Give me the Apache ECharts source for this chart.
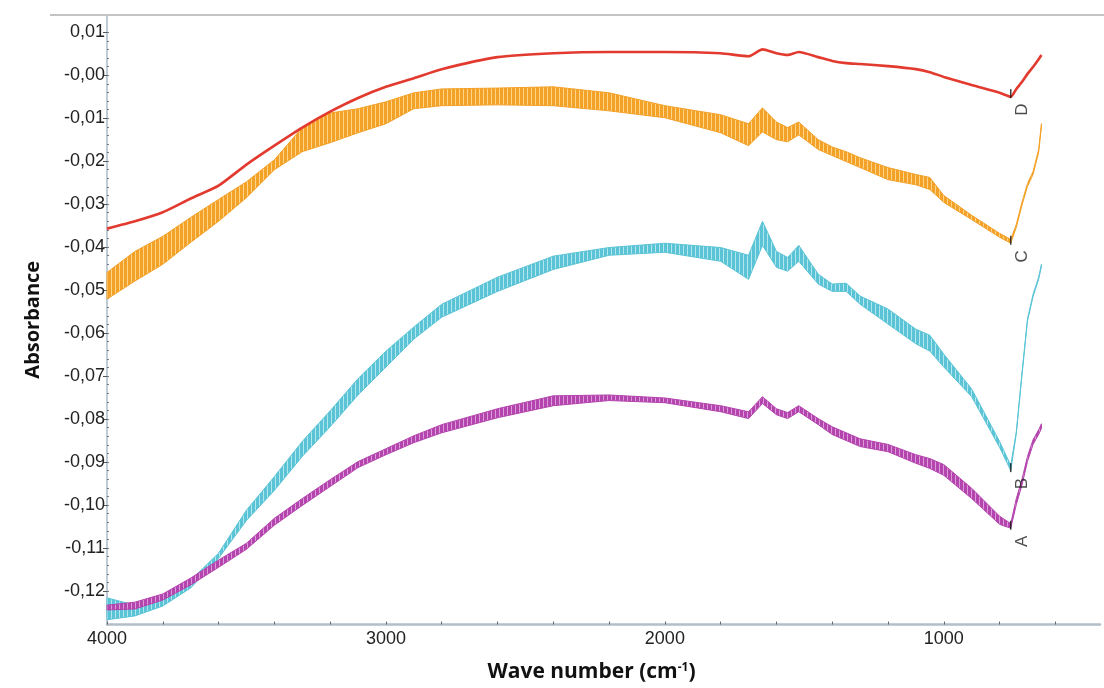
<!DOCTYPE html>
<html>
<head>
<meta charset="utf-8">
<title>FTIR absorbance spectra</title>
<script src="https://cdn.jsdelivr.net/npm/echarts@6/dist/echarts.min.js"></script>
<style>
  html, body { margin: 0; padding: 0; background: #ffffff; }
  #chart { width: 1104px; height: 688px; }
</style>
</head>
<body>
<div id="chart"></div>
<script>
// Sampled wave numbers (cm-1), shared by every spectrum
const waveNumbers = [4000, 3900, 3800, 3700, 3600, 3500, 3400, 3300, 3200, 3100,
  3000, 2900, 2800, 2600, 2400, 2200, 2000, 1800, 1700, 1650,
  1600, 1560, 1520, 1450, 1400, 1350, 1300, 1200, 1100, 1050,
  1000, 900, 800, 760, 740, 720, 700, 680, 660, 650];

// Spectrum D (single trace)
const spectrumD = [-0.0357, -0.0340, -0.0319, -0.0287, -0.0257, -0.0208, -0.0164, -0.0122, -0.0085, -0.0053,
  -0.0027, -0.0007, 0.0014, 0.0042, 0.0051, 0.0054, 0.0054, 0.0051, 0.0044, 0.0060,
  0.0051, 0.0047, 0.0054, 0.0042, 0.0033, 0.0028, 0.0026, 0.0021, 0.0014, 0.0007,
  -0.0004, -0.0023, -0.0041, -0.0050, -0.0032, -0.0016, 0.0003, 0.0019, 0.0037, 0.0047];

// Spectrum C: upper and lower edge of the noisy trace
const spectrumCHigh = [-0.0459, -0.0410, -0.0375, -0.0331, -0.0289, -0.0248, -0.0197, -0.0122, -0.0088, -0.0078,
  -0.0062, -0.0041, -0.0032, -0.0030, -0.0027, -0.0041, -0.0071, -0.0092, -0.0113, -0.0076,
  -0.0109, -0.0122, -0.0109, -0.0150, -0.0167, -0.0178, -0.0192, -0.0215, -0.0231, -0.0238,
  -0.0280, -0.0326, -0.0368, -0.0382, -0.0347, -0.0296, -0.0252, -0.0224, -0.0173, -0.0113];
const spectrumCLow = [-0.0521, -0.0479, -0.0440, -0.0389, -0.0340, -0.0285, -0.0220, -0.0178, -0.0157, -0.0134,
  -0.0113, -0.0078, -0.0071, -0.0069, -0.0071, -0.0083, -0.0099, -0.0134, -0.0164, -0.0132,
  -0.0150, -0.0155, -0.0139, -0.0173, -0.0187, -0.0201, -0.0215, -0.0243, -0.0255, -0.0266,
  -0.0296, -0.0336, -0.0377, -0.0391, -0.0354, -0.0303, -0.0259, -0.0231, -0.0180, -0.0120];

// Spectrum B
const spectrumBHigh = [-0.1216, -0.1233, -0.1212, -0.1175, -0.1112, -0.1012, -0.0934, -0.0852, -0.0781, -0.0706,
  -0.0642, -0.0586, -0.0533, -0.0470, -0.0421, -0.0401, -0.0391, -0.0401, -0.0419, -0.0340,
  -0.0410, -0.0424, -0.0396, -0.0463, -0.0486, -0.0484, -0.0514, -0.0544, -0.0591, -0.0605,
  -0.0649, -0.0730, -0.0852, -0.0908, -0.0829, -0.0695, -0.0567, -0.0510, -0.0470, -0.0440];
const spectrumBLow = [-0.1267, -0.1258, -0.1235, -0.1193, -0.1124, -0.1036, -0.0966, -0.0887, -0.0818, -0.0744,
  -0.0679, -0.0614, -0.0563, -0.0503, -0.0452, -0.0419, -0.0412, -0.0433, -0.0475, -0.0396,
  -0.0447, -0.0456, -0.0433, -0.0486, -0.0503, -0.0503, -0.0533, -0.0579, -0.0625, -0.0642,
  -0.0679, -0.0748, -0.0866, -0.0920, -0.0834, -0.0700, -0.0572, -0.0515, -0.0475, -0.0445];

// Spectrum A
const spectrumAHigh = [-0.1233, -0.1226, -0.1207, -0.1170, -0.1128, -0.1089, -0.1031, -0.0985, -0.0941, -0.0899,
  -0.0869, -0.0839, -0.0813, -0.0776, -0.0746, -0.0744, -0.0751, -0.0769, -0.0783, -0.0748,
  -0.0776, -0.0785, -0.0769, -0.0799, -0.0818, -0.0832, -0.0846, -0.0859, -0.0883, -0.0892,
  -0.0906, -0.0961, -0.1026, -0.1043, -0.0985, -0.0941, -0.0887, -0.0848, -0.0825, -0.0811];
const spectrumALow = [-0.1244, -0.1242, -0.1221, -0.1186, -0.1145, -0.1103, -0.1047, -0.1001, -0.0957, -0.0913,
  -0.0883, -0.0855, -0.0832, -0.0797, -0.0769, -0.0757, -0.0762, -0.0783, -0.0799, -0.0764,
  -0.0790, -0.0799, -0.0783, -0.0813, -0.0836, -0.0850, -0.0864, -0.0876, -0.0903, -0.0915,
  -0.0931, -0.0985, -0.1045, -0.1054, -0.0999, -0.0954, -0.0899, -0.0859, -0.0836, -0.0822];

// Axis ticks
const xTickLabels = [4000, 3000, 2000, 1000];
const xMinorTicks = [4000, 3800, 3600, 3400, 3200, 3000, 2800, 2600, 2400, 2200, 2000,
  1800, 1600, 1400, 1200, 1000, 800, 600];
const yTickLabels = [0.01, 0.00, -0.01, -0.02, -0.03, -0.04, -0.05, -0.06, -0.07,
  -0.08, -0.09, -0.10, -0.11, -0.12];

const colors = { A: '#b444ae', B: '#5ac4d6', C: '#f4a128', D: '#e23a2e' };

// Vertical hatching used to fill the noisy spectra
function hatch(base, light) {
  const c = document.createElement('canvas');
  c.width = 4; c.height = 8;
  const g = c.getContext('2d');
  g.fillStyle = base; g.fillRect(0, 0, 4, 8);
  g.fillStyle = light; g.fillRect(3, 0, 1, 8);
  return { image: c, repeat: 'repeat' };
}

function bandSeries(name, high, low, color, light, z) {
  return {
    name: name,
    type: 'custom',
    coordinateSystem: 'cartesian2d',
    z: z,
    silent: true,
    encode: { x: 0, y: [1, 2] },
    data: waveNumbers.map((w, i) => [w, high[i], low[i]]),
    renderItem: function (params, api) {
      if (params.dataIndex !== 0) return null;
      const top = waveNumbers.map((w, i) => api.coord([w, high[i]]));
      const bottom = waveNumbers.map((w, i) => api.coord([w, low[i]])).reverse();
      return {
        type: 'polygon',
        shape: { points: top.concat(bottom) },
        style: { fill: hatch(color, light), stroke: color, lineWidth: 1, lineJoin: 'round' }
      };
    }
  };
}

// Absorption minimum of each spectrum in the fingerprint region, marked with its letter
function fingerprintMinimum(values) {
  let k = -1;
  values.forEach((v, i) => {
    if (waveNumbers[i] < 1000 && (k < 0 || v < values[k])) k = i;
  });
  return k;
}
const markedCurves = [['D', spectrumD], ['C', spectrumCLow], ['B', spectrumBLow], ['A', spectrumALow]];
const minimaData = markedCurves.map(([letter, vals]) => {
  const k = fingerprintMinimum(vals);
  return { name: letter, value: [waveNumbers[k], vals[k]] };
});

const yFormat = v => (Math.abs(v) < 1e-9 ? '-0,00' : v.toFixed(2).replace('.', ','));

const chart = echarts.init(document.getElementById('chart'), null, { renderer: 'canvas' });
chart.setOption({
  backgroundColor: '#ffffff',
  animation: false,
  grid: { left: 107, right: 4, top: 15, bottom: 60 },
  graphic: [{
    type: 'line', z: 100,
    shape: { x1: 50, y1: 15, x2: 1104, y2: 15 },
    style: { stroke: '#c4c4c4', lineWidth: 2 }
  }],
  xAxis: [{
    type: 'value', inverse: true, min: 440, max: 4000,
    name: 'Wave number (cm{sup|-1})', nameLocation: 'middle', nameGap: 37,
    nameTextStyle: {
      fontFamily: 'Open Sans', fontWeight: 'bold', fontSize: 21, color: '#111',
      padding: [0, 24, 0, 0],
      rich: { sup: { fontFamily: 'Open Sans', fontWeight: 'bold', fontSize: 12, color: '#111', verticalAlign: 'top', padding: [0, 0, 10, 0] } }
    },
    splitLine: { show: false },
    axisLine: { onZero: false, lineStyle: { color: '#b3bec7', width: 2.5 } },
    axisTick: { show: true, inside: true, length: 3, customValues: xMinorTicks, lineStyle: { color: '#667', width: 1 } },
    axisLabel: {
      customValues: xTickLabels, margin: 6, formatter: v => String(v),
      fontFamily: 'Liberation Sans', fontSize: 18, color: '#222', letterSpacing: -0.5
    }
  }],
  yAxis: [{
    type: 'value', min: -0.1278, max: 0.0140,
    name: 'Absorbance', nameLocation: 'middle', nameGap: 64, nameRotate: 90,
    nameTextStyle: { fontFamily: 'Open Sans', fontWeight: 'bold', fontSize: 20, color: '#111' },
    splitLine: { show: false },
    axisLine: { onZero: false, lineStyle: { color: '#a9b8c6', width: 1.5 } },
    axisTick: { show: true, length: 4, customValues: yTickLabels, lineStyle: { color: '#555', width: 1 } },
    axisLabel: {
      customValues: yTickLabels, margin: 2, formatter: yFormat,
      fontFamily: 'Liberation Sans', fontSize: 18, color: '#222', letterSpacing: -0.5
    }
  }, {
    type: 'value', min: -0.1278, max: 0.0140, position: 'left',
    splitLine: { show: false },
    axisLine: { show: false },
    axisTick: { show: true, inside: true, length: 2,
      customValues: yTickLabels.flatMap(v => [v, v - 0.002, v - 0.004, v - 0.006, v - 0.008]).filter(v => v > -0.1278),
      lineStyle: { color: '#778', width: 1 } },
    axisLabel: { show: false }
  }],
  series: [
    bandSeries('C', spectrumCHigh, spectrumCLow, colors.C, '#fbd58c', 2),
    bandSeries('B', spectrumBHigh, spectrumBLow, colors.B, '#b4e6ee', 3),
    {
      name: 'D', type: 'line', z: 4, silent: true,
      data: waveNumbers.map((w, i) => [w, spectrumD[i]]),
      showSymbol: false, smooth: 0.2,
      lineStyle: { color: colors.D, width: 2.6 }
    },
    bandSeries('A', spectrumAHigh, spectrumALow, colors.A, '#dc9ad8', 5),
    {
      name: 'minima', type: 'scatter', z: 6, silent: true,
      data: minimaData,
      symbol: 'rect', symbolSize: [1.5, 9], symbolOffset: [0, -3],
      itemStyle: { color: '#111' },
      label: {
        show: true, formatter: p => p.name, rotate: 90,
        position: [12.75, 20.5], align: 'center', verticalAlign: 'middle',
        fontFamily: 'Liberation Sans', fontSize: 17, color: '#222'
      }
    }
  ]
});
</script>
</body>
</html>
